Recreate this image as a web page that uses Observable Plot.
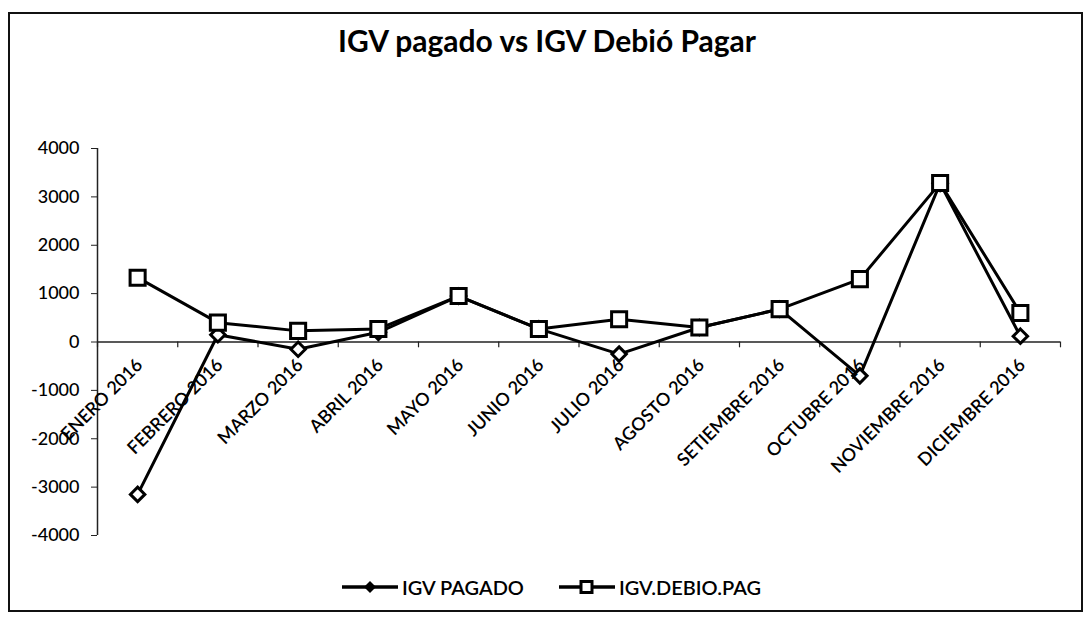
<!DOCTYPE html>
<html>
<head>
<meta charset="utf-8">
<script src="https://cdn.jsdelivr.net/npm/d3@7"></script>
<script src="https://cdn.jsdelivr.net/npm/@observablehq/plot@0.6"></script>
<style>
  html, body { margin: 0; padding: 0; background: #fff; }
  #wrap { position: relative; width: 1088px; height: 622px; font-family: Lato, "Open Sans", sans-serif; color: #000; }
  #frame { position: absolute; left: 8px; top: 12px; width: 1075px; height: 600px; border: 2px solid #111; box-sizing: border-box; }
  #title { position: absolute; left: 0; top: 22px; width: 1094px; text-align: center; font-size: 30px; font-weight: 700; line-height: 36px; }
  #chart { position: absolute; left: 0; top: 0; }
  #legend { position: absolute; left: 0; top: 575px; width: 1102px; display: flex; justify-content: center; gap: 34px; font-size: 20px; font-weight: 600; line-height: 24px; }
  .item { display: flex; align-items: center; gap: 3px; }
</style>
</head>
<body>
<div id="wrap">
  <div id="frame"></div>
  <div id="chart"></div>
  <div id="title">IGV pagado vs IGV Debió Pagar</div>
  <div id="legend"></div>
</div>
<script>
const months = ["ENERO 2016", "FEBRERO 2016", "MARZO 2016", "ABRIL 2016", "MAYO 2016", "JUNIO 2016",
  "JULIO 2016", "AGOSTO 2016", "SETIEMBRE 2016", "OCTUBRE 2016", "NOVIEMBRE 2016", "DICIEMBRE 2016"];
const igvPagado = [-3150, 150, -150, 200, 950, 270, -250, 300, 680, -700, 3280, 120];
const igvDebio = [1330, 400, 230, 270, 950, 270, 470, 300, 680, 1300, 3285, 600];
const yTicks = [-4000, -3000, -2000, -1000, 0, 1000, 2000, 3000, 4000];
const seriesNames = ["IGV PAGADO", "IGV.DEBIO.PAG"];

const data = months.map((m, i) => ({i, m, pag: igvPagado[i], deb: igvDebio[i]}));
const boundaries = [-0.5, ...months.map((_, i) => i + 0.5)];

const chart = Plot.plot({
  width: 1088,
  height: 622,
  marginTop: 148,
  marginBottom: 87,
  marginLeft: 97,
  marginRight: 28,
  style: {fontFamily: "Lato, sans-serif", background: "transparent", color: "#000"},
  x: {domain: [-0.5, 11.5], axis: null},
  y: {domain: [-4000, 4000], axis: null},
  marks: [
    Plot.ruleY([0], {stroke: "#222", strokeWidth: 1.5}),
    Plot.ruleX([-0.5], {y1: -4000, y2: 4000, stroke: "#222", strokeWidth: 1.5}),
    Plot.ruleX(boundaries, {y1: 0, y2: -120, stroke: "#222", strokeWidth: 1.2}),
    Plot.axisY({ticks: yTicks, tickSize: 6, tickPadding: 12, tickFormat: d => String(d), fontSize: 18, fontWeight: 500, stroke: "#222"}),
    Plot.line(data, {x: "i", y: "pag", stroke: "#000", strokeWidth: 3}),
    Plot.line(data, {x: "i", y: "deb", stroke: "#000", strokeWidth: 3}),
    Plot.dot(data, {x: "i", y: "pag", symbol: "diamond2", r: 6.5, fill: "#fff", stroke: "#000", strokeWidth: 3}),
    Plot.dot(data, {x: "i", y: "deb", symbol: "square", r: 8.5, fill: "#fff", stroke: "#000", strokeWidth: 3}),
    Plot.text(data, {x: "i", y: 0, text: "m", rotate: -45, textAnchor: "end", dx: 2, dy: 20, fontSize: 18, fontWeight: 600, fill: "#000"})
  ]
});
document.getElementById("chart").appendChild(chart);

const legend = document.getElementById("legend");
const icons = [
  `<svg width="58" height="16"><line x1="1" y1="8" x2="57" y2="8" stroke="#000" stroke-width="3.5"/><path d="M29 2 L35 8 L29 14 L23 8 Z" fill="#000"/></svg>`,
  `<svg width="58" height="16"><line x1="1" y1="8" x2="57" y2="8" stroke="#000" stroke-width="3.5"/><rect x="23" y="2.5" width="11" height="11" fill="#fff" stroke="#000" stroke-width="3"/></svg>`
];
seriesNames.forEach((name, k) => {
  const el = document.createElement("div");
  el.className = "item";
  el.innerHTML = icons[k] + `<span>${name}</span>`;
  legend.appendChild(el);
});
</script>
</body>
</html>
